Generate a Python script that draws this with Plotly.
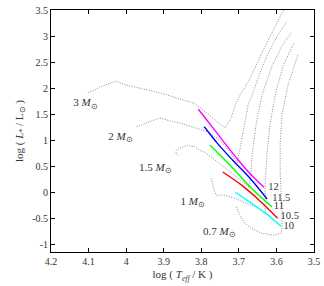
import plotly.graph_objects as go

# ---- evolutionary tracks (log Teff, log L) ----
m3_x = [4.102, 4.091, 4.081, 4.070, 4.059, 4.049, 4.038, 4.025, 4.017, 4.001, 3.990, 3.903, 3.818, 3.781, 3.752, 3.736, 3.720, 3.709, 3.696, 3.675, 3.633, 3.582, 3.574]
m3_y = [1.912, 1.949, 1.968, 2.024, 2.043, 2.081, 2.099, 2.137, 2.099, 2.062, 2.043, 1.893, 1.706, 1.499, 1.312, 1.237, 1.443, 1.687, 1.874, 2.118, 2.756, 3.468, 3.600]

m2_x = [3.972, 3.959, 3.948, 3.937, 3.924, 3.911, 3.900, 3.884, 3.858, 3.831, 3.805, 3.784, 3.752, 3.725, 3.704, 3.699, 3.691, 3.675, 3.664, 3.646, 3.625, 3.598, 3.572]
m2_y = [1.256, 1.293, 1.331, 1.349, 1.387, 1.424, 1.406, 1.368, 1.331, 1.274, 1.218, 1.162, 1.012, 0.787, 0.562, 0.749, 1.124, 1.687, 1.874, 2.249, 2.624, 2.999, 3.281]

m15_x = [3.863, 3.869, 3.858, 3.845, 3.837, 3.826, 3.818, 3.805, 3.792, 3.770, 3.747, 3.720, 3.694, 3.672, 3.667, 3.664, 3.654, 3.638, 3.611, 3.585, 3.561]
m15_y = [0.712, 0.787, 0.843, 0.880, 0.899, 0.880, 0.880, 0.806, 0.768, 0.655, 0.524, 0.374, 0.224, 0.093, 0.468, 0.749, 1.312, 1.874, 2.437, 2.812, 3.056]

m1_x = [3.773, 3.770, 3.765, 3.760, 3.739, 3.712, 3.680, 3.651, 3.630, 3.630, 3.630, 3.625, 3.617, 3.603, 3.582, 3.553]
m1_y = [0.262, 0.149, 0.018, -0.057, -0.057, -0.113, -0.207, -0.301, -0.413, -0.095, 0.187, 0.749, 1.312, 1.874, 2.437, 2.868]

m07_x = [3.707, 3.699, 3.686, 3.667, 3.640, 3.606, 3.587, 3.585, 3.585, 3.587, 3.590, 3.590, 3.585, 3.569, 3.542]
m07_y = [-0.282, -0.413, -0.582, -0.695, -0.788, -0.826, -0.788, -0.676, -0.376, -0.001, 0.374, 0.937, 1.499, 2.062, 2.662]

# ---- coloured lines (labelled 12 ... 10) ----
g12_x = [3.808, 3.773, 3.739, 3.704, 3.670, 3.633]
g12_y = [1.593, 1.274, 0.956, 0.637, 0.355, 0.093]
g115_x = [3.792, 3.757, 3.717, 3.672, 3.625]
g115_y = [1.256, 0.937, 0.618, 0.280, -0.132]
g11_x = [3.777, 3.717, 3.664, 3.612]
g11_y = [0.905, 0.468, 0.055, -0.282]
g105_x = [3.743, 3.691, 3.641, 3.597]
g105_y = [0.387, 0.125, -0.188, -0.501]
g10_x = [3.709, 3.672, 3.628, 3.588]
g10_y = [-0.001, -0.188, -0.408, -0.657]

# ---- labels ----
mass_labels = ["3 <i>M</i><sub>⊙</sub>", "2 <i>M</i><sub>⊙</sub>", "1.5 <i>M</i><sub>⊙</sub>", "1 <i>M</i><sub>⊙</sub>", "0.7 <i>M</i><sub>⊙</sub>"]
mass_lab_x = [4.108, 4.015, 3.922, 3.823, 3.752]
mass_lab_y = [1.70, 1.06, 0.46, -0.19, -0.77]

g_labels = ["12", "11.5", "11", "10.5", "10"]
g_lab_x = [3.622, 3.611, 3.607, 3.589, 3.581]
g_lab_y = [0.093, -0.119, -0.276, -0.464, -0.651]

x_ticks = [4.2, 4.1, 4.0, 3.9, 3.8, 3.7, 3.6, 3.5]
x_ticktext = ["4.2", "4.1", "4", "3.9", "3.8", "3.7", "3.6", "3.5"]
y_ticks = [-1, -0.5, 0, 0.5, 1, 1.5, 2, 2.5, 3, 3.5]
y_ticktext = ["-1", "-0.5", "0", "0.5", "1", "1.5", "2", "2.5", "3", "3.5"]

FONT = "Liberation Serif"
GREY = "#8c8c8c"

fig = go.Figure()
for tx, ty in [(m3_x, m3_y), (m2_x, m2_y), (m15_x, m15_y), (m1_x, m1_y), (m07_x, m07_y)]:
    fig.add_trace(go.Scatter(x=tx, y=ty, mode="lines",
                             line=dict(color=GREY, width=1, dash="1px,1.5px"),
                             hoverinfo="skip", showlegend=False))

for gx, gy, col in [(g12_x, g12_y, "#ff00ff"), (g115_x, g115_y, "#0000ff"),
                    (g11_x, g11_y, "#00ff00"), (g105_x, g105_y, "#ff0000"),
                    (g10_x, g10_y, "#00ffff")]:
    fig.add_trace(go.Scatter(x=gx, y=gy, mode="lines",
                             line=dict(color=col, width=1.4, shape="spline"),
                             showlegend=False))

fig.add_trace(go.Scatter(x=mass_lab_x, y=mass_lab_y, mode="text", text=mass_labels,
                         textposition="middle center",
                         textfont=dict(family=FONT, size=11, color="#333"),
                         showlegend=False))
fig.add_trace(go.Scatter(x=g_lab_x, y=g_lab_y, mode="text", text=g_labels,
                         textposition="middle right",
                         textfont=dict(family=FONT, size=10.5, color="#333"),
                         showlegend=False))

axis_common = dict(showgrid=False, zeroline=False, showline=True, linecolor="black",
                   linewidth=1, mirror="ticks", ticks="inside", ticklen=4,
                   tickcolor="black", ticklabeloverflow="allow",
                   tickfont=dict(family=FONT, size=10, color="#333"))

fig.update_layout(
    width=324, height=286,
    margin=dict(l=51, r=9, t=4, b=34),
    plot_bgcolor="white", paper_bgcolor="white",
    font=dict(family=FONT),
    xaxis=dict(range=[4.2, 3.5], tickvals=x_ticks, ticktext=x_ticktext,
               title=dict(text="log ( <i>T</i><sub><i>eff</i></sub> / K )",
                          font=dict(family=FONT, size=11, color="#333"), standoff=4),
               **axis_common),
    yaxis=dict(range=[-1.15, 3.5], tickvals=y_ticks, ticktext=y_ticktext,
               title=dict(text="log ( <i>L</i><sub>*</sub> / L<sub>⊙</sub> )",
                          font=dict(family=FONT, size=11, color="#333"), standoff=6),
               **axis_common),
)

fig.write_html("out.html", config={"displayModeBar": False},
               post_script="document.body.style.margin='0';document.body.style.padding='0';")
